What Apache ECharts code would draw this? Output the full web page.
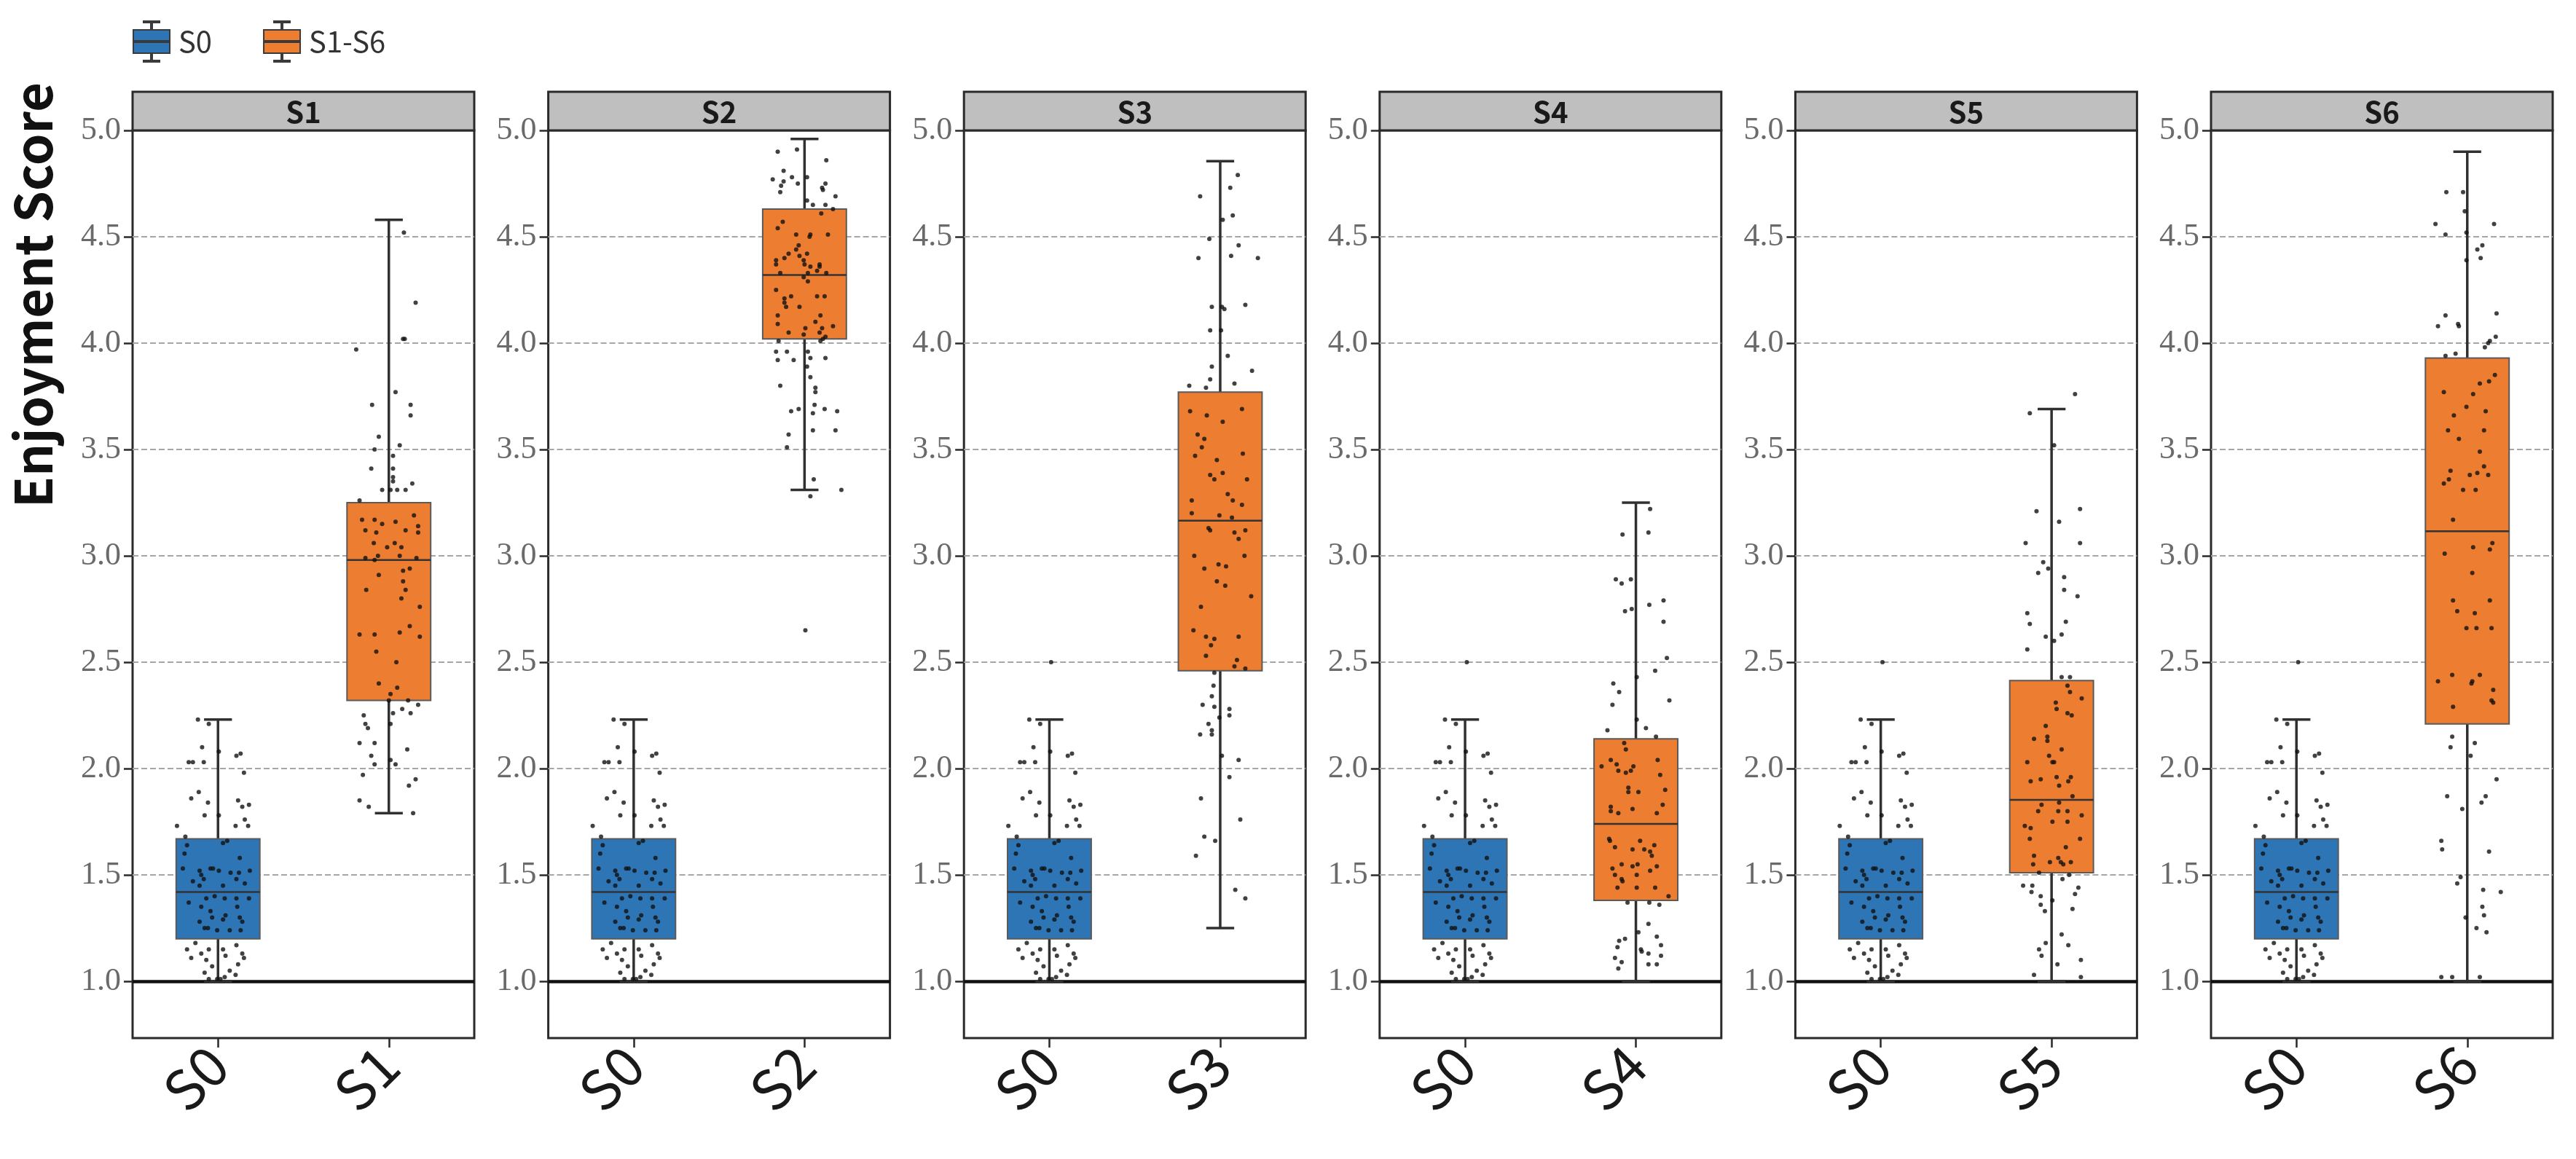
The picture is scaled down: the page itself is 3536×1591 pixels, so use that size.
<!DOCTYPE html>
<html>
<head>
<meta charset="utf-8">
<script src="https://cdn.jsdelivr.net/npm/echarts@6/dist/echarts.min.js"></script>
<style>html,body{margin:0;padding:0;background:#fff}#c{width:3536px;height:1591px}</style>
</head>
<body>
<div id="c"></div>
<script>
// ---------------- DATA ----------------
const panelNames = ['S1', 'S2', 'S3', 'S4', 'S5', 'S6'];
const baseName = 'S0';
const legendNames = ['S0', 'S1-S6'];
const yTickValues = [1.0, 1.5, 2.0, 2.5, 3.0, 3.5, 4.0, 4.5, 5.0];
const gridLineValues = [1.5, 2.0, 2.5, 3.0, 3.5, 4.0, 4.5];

// box stats: [lower whisker, Q1, median, Q3, upper whisker]
const s0Stats = [1.0, 1.2, 1.42, 1.67, 2.23];
const s1Stats = [1.79, 2.32, 2.98, 3.25, 4.58];
const s2Stats = [3.31, 4.02, 4.32, 4.63, 4.96];
const s3Stats = [1.25, 2.46, 3.165, 3.77, 4.855];
const s4Stats = [1.0, 1.38, 1.74, 2.14, 3.25];
const s5Stats = [1.0, 1.51, 1.853, 2.414, 3.69];
const s6Stats = [1.0, 2.21, 3.116, 3.93, 4.90];

// jittered observations (value) and horizontal jitter (fraction of box width)
const s0Values = [2.23,2.21,2.08,2.10,2.03,2.03,2.03,2.06,2.07,1.98,
  1.86,1.89,1.84,1.85,1.82,1.83,1.78,1.73,1.73,1.76,
  1.73,1.78,1.68,1.64,1.60,1.53,1.65,1.66,1.58,1.52,
  1.50,1.53,1.53,1.52,1.51,1.51,1.52,1.47,1.45,1.48,
  1.45,1.48,1.46,1.39,1.40,1.39,1.39,1.39,1.35,1.33,
  1.31,1.35,1.37,1.30,1.28,1.30,1.29,1.28,1.25,1.25,
  1.24,1.24,1.24,1.15,1.18,1.13,1.15,1.17,1.13,1.15,
  1.11,1.10,1.07,1.12,1.11,1.08,1.04,1.05,1.03,1.02,
  1.01,1.01,1.01];
const s0Jitter = [-0.24,-0.11,0.01,-0.19,-0.35,-0.30,-0.17,0.22,0.27,0.31,
  -0.32,-0.23,-0.12,0.24,0.29,0.37,-0.16,-0.49,0.21,0.32,
  0.36,0.01,-0.39,-0.37,-0.40,-0.42,0.06,0.11,0.26,-0.22,
  -0.20,-0.09,-0.06,0.01,0.15,0.25,0.38,-0.30,-0.22,-0.17,
  0.06,0.22,0.32,-0.14,-0.04,0.08,0.22,0.37,-0.20,-0.09,
  0.09,0.23,-0.35,0.26,0.29,-0.07,0.06,-0.22,-0.16,-0.12,
  -0.01,0.14,0.27,-0.37,-0.27,-0.20,-0.11,0.22,0.29,0.06,
  -0.32,-0.14,-0.07,0.09,0.31,0.24,-0.16,0.14,0.21,0.08,
  -0.11,0.03,-0.01];
// extra S0 outlier shown in some panels (null = none)
const s0PanelOutlier = [null, null, 2.5, 2.5, 2.5, 2.5];

const s1Values = [4.52,4.19,3.97,4.02,4.02,3.77,3.71,3.71,3.66,3.56,
  3.50,3.52,3.41,3.47,3.41,3.37,3.35,3.31,3.31,3.31,
  3.31,3.34,3.26,3.17,3.17,3.15,3.16,3.19,3.12,3.11,
  3.12,3.11,3.14,3.06,3.04,3.06,3.04,2.99,2.98,3.00,
  3.00,2.99,2.91,2.93,2.94,2.88,2.84,2.84,2.80,2.76,
  2.67,2.63,2.63,2.64,2.62,2.55,2.50,2.40,2.38,2.35,
  2.32,2.32,2.28,2.26,2.25,2.26,2.30,2.21,2.19,2.21,
  2.12,2.12,2.06,2.02,2.09,2.04,2.02,1.97,1.95,1.92,
  1.85,1.82,1.79];
const s1Jitter = [0.18,0.32,-0.39,0.17,0.19,0.08,-0.20,0.26,0.26,-0.12,
  -0.17,0.13,-0.21,0.05,0.05,0.05,0.05,-0.08,0.02,0.10,
  0.20,0.28,-0.35,-0.32,-0.17,-0.08,0.08,0.30,-0.28,-0.15,
  0.20,0.35,0.35,-0.18,-0.02,0.07,0.15,-0.28,-0.17,-0.13,
  0.13,0.33,-0.12,0.17,0.25,0.17,-0.27,0.20,0.15,0.37,
  0.25,-0.35,-0.17,0.13,0.37,-0.15,0.09,-0.12,0.10,0.02,
  0.23,0.00,0.16,0.26,-0.30,0.05,0.35,-0.28,-0.25,0.02,
  -0.35,-0.17,-0.21,-0.17,0.22,0.02,0.08,-0.31,0.32,0.24,
  -0.35,-0.24,0.29];

const s2Values = [4.90,4.91,4.86,4.81,4.77,4.78,4.78,4.76,4.74,4.75,
  4.75,4.73,4.72,4.71,4.69,4.67,4.65,4.65,4.63,4.61,
  4.57,4.54,4.51,4.51,4.50,4.51,4.46,4.44,4.42,4.40,
  4.41,4.42,4.39,4.37,4.39,4.37,4.36,4.37,4.36,4.33,
  4.33,4.34,4.33,4.31,4.29,4.25,4.22,4.21,4.19,4.17,
  4.17,4.22,4.22,4.13,4.13,4.09,4.10,4.07,4.07,4.08,
  4.05,4.04,4.05,4.03,4.02,4.01,4.01,3.96,3.96,3.96,
  3.92,3.92,3.93,3.93,3.89,3.80,3.84,3.79,3.77,3.71,
  3.69,3.68,3.69,3.67,3.68,3.59,3.59,3.57,3.51,3.36,
  3.28,3.31,2.65];
const s2Jitter = [-0.32,-0.09,0.26,-0.25,-0.38,-0.15,0.03,-0.25,-0.28,-0.08,
  0.25,0.21,0.22,-0.29,0.37,0.03,0.10,0.25,0.34,0.20,
  -0.26,-0.32,-0.10,0.07,0.06,0.28,-0.07,-0.10,-0.19,-0.24,
  -0.06,0.03,-0.34,-0.34,-0.01,0.00,0.07,0.18,0.18,-0.29,
  0.04,0.15,0.26,-0.01,0.04,-0.34,-0.16,-0.24,-0.24,-0.22,
  -0.06,0.15,0.24,-0.32,0.19,-0.32,0.13,0.01,0.21,0.34,
  -0.19,-0.01,0.18,0.25,0.22,-0.31,0.19,-0.34,-0.21,0.04,
  -0.32,-0.13,0.07,0.25,0.03,-0.29,0.07,0.13,0.13,0.12,
  -0.07,-0.16,0.24,0.10,0.39,0.10,0.37,-0.19,-0.21,0.11,
  0.07,0.44,0.01];

const s3Values = [4.79,4.73,4.69,4.60,4.58,4.49,4.40,4.41,4.46,4.40,
  4.17,4.17,4.16,4.18,4.06,4.06,3.94,3.89,3.83,3.87,
  3.81,3.80,3.79,3.68,3.66,3.69,3.63,3.57,3.55,3.51,
  3.47,3.48,3.45,3.38,3.36,3.39,3.36,3.29,3.26,3.26,
  3.20,3.24,3.19,3.18,3.13,3.12,3.11,3.08,3.12,3.00,
  3.00,2.94,2.96,2.95,2.88,2.86,2.81,2.76,2.65,2.62,
  2.61,2.58,2.62,2.53,2.51,2.48,2.47,2.45,2.39,2.34,
  2.30,2.29,2.28,2.25,2.24,2.21,2.18,2.16,2.16,2.06,
  2.04,1.96,1.86,1.76,1.68,1.66,1.59,1.43,1.39];
const s3Jitter = [0.21,0.12,-0.24,0.15,0.03,-0.13,-0.26,0.13,0.22,0.45,
  -0.10,0.02,0.05,0.30,-0.12,0.01,0.09,-0.10,-0.12,0.38,
  0.17,-0.37,-0.17,-0.36,-0.16,0.26,0.03,-0.27,-0.19,-0.22,
  -0.30,0.27,-0.04,-0.12,-0.07,0.03,0.32,0.09,0.15,-0.34,
  -0.34,0.26,-0.01,0.14,-0.14,-0.12,0.17,0.22,0.30,-0.31,
  0.29,-0.19,-0.02,0.07,-0.04,0.06,0.37,-0.23,-0.32,-0.17,
  -0.07,-0.11,0.22,-0.17,0.20,0.17,0.30,-0.07,-0.08,-0.10,
  -0.21,-0.07,0.11,0.11,-0.01,-0.14,-0.10,-0.24,-0.10,0.02,
  0.22,0.11,-0.23,0.24,-0.19,-0.06,-0.29,0.18,0.30];

const s4Values = [3.22,3.10,3.11,2.89,2.87,2.89,2.77,2.79,2.74,2.75,
  2.69,2.52,2.46,2.43,2.40,2.36,2.32,2.30,2.23,2.19,
  2.18,2.15,2.12,2.09,2.01,2.04,2.02,1.99,1.98,1.99,
  2.01,2.04,1.97,1.91,1.89,1.89,1.90,1.82,1.80,1.79,
  1.81,1.83,1.79,1.67,1.66,1.63,1.62,1.66,1.62,1.61,
  1.64,1.59,1.55,1.53,1.54,1.55,1.54,1.52,1.50,1.48,
  1.47,1.50,1.44,1.44,1.44,1.40,1.37,1.37,1.36,1.27,
  1.23,1.19,1.20,1.21,1.16,1.15,1.14,1.13,1.17,1.12,
  1.11,1.09,1.06,1.08,1.08];
const s4Jitter = [0.17,-0.16,0.15,-0.24,-0.17,-0.06,0.16,0.33,-0.13,-0.05,
  0.33,0.37,0.23,0.01,-0.27,-0.20,0.40,-0.28,0.01,0.12,
  -0.34,0.24,-0.14,-0.12,-0.41,-0.30,-0.23,-0.21,-0.12,-0.06,
  -0.03,0.26,0.29,-0.09,-0.09,0.03,0.35,-0.30,-0.30,-0.21,
  -0.04,0.32,0.25,-0.32,-0.31,-0.25,-0.04,0.05,0.10,0.17,
  0.22,0.19,-0.17,-0.28,-0.04,0.02,0.25,0.17,-0.25,-0.17,
  -0.16,0.01,-0.22,0.01,0.23,0.39,-0.10,0.16,0.28,0.15,
  0.03,-0.20,-0.13,0.25,-0.22,0.06,0.07,0.15,0.30,0.30,
  -0.25,-0.17,-0.21,0.15,0.25];

const s5Values = [3.67,3.52,3.21,3.22,3.16,3.06,3.06,2.97,2.94,2.92,
  2.90,2.84,2.81,2.73,2.68,2.69,2.62,2.63,2.60,2.56,
  2.43,2.43,2.39,2.36,2.33,2.31,2.28,2.26,2.25,2.20,
  2.14,2.15,2.13,2.09,2.06,2.03,2.03,2.03,1.94,1.95,
  1.96,1.92,1.94,1.96,1.87,1.84,1.83,1.80,1.80,1.80,
  1.78,1.73,1.72,1.75,1.75,1.67,1.67,1.63,1.59,1.58,
  1.55,1.56,1.56,1.55,1.56,1.51,1.50,1.45,1.45,1.42,
  1.48,1.44,1.41,1.40,1.36,1.33,1.38,1.34,1.22,1.18,
  1.17,1.15,1.12,1.08,1.10,1.03,1.02,3.76];
const s5Jitter = [-0.26,0.03,-0.18,0.34,0.09,-0.31,0.34,-0.10,-0.04,-0.16,
  0.15,0.15,0.31,-0.29,-0.26,0.17,-0.07,0.12,0.03,-0.29,
  0.12,0.22,0.19,0.22,0.36,0.05,0.06,0.19,0.24,-0.07,
  -0.21,-0.05,-0.05,0.12,-0.03,0.03,0.01,-0.29,-0.25,-0.13,
  0.06,0.09,0.20,0.23,0.25,0.09,-0.12,-0.16,0.08,0.19,
  0.36,-0.32,-0.25,0.01,0.19,-0.26,0.34,0.17,-0.21,0.08,
  -0.22,-0.02,0.11,0.14,0.23,-0.15,0.21,-0.34,-0.23,-0.24,
  0.13,0.32,0.28,-0.13,-0.13,-0.08,0.01,0.25,0.12,-0.07,
  0.20,-0.15,-0.12,0.07,0.35,-0.21,0.35,0.28];

const s6Values = [4.71,4.71,4.62,4.56,4.56,4.51,4.52,4.46,4.44,4.40,
  4.39,4.13,4.14,4.08,4.09,4.08,4.03,4.01,4.00,3.98,
  3.94,3.95,3.85,3.82,3.81,3.77,3.76,3.70,3.66,3.68,
  3.59,3.55,3.59,3.49,3.40,3.36,3.34,3.38,3.39,3.42,
  3.38,3.31,3.31,3.17,3.06,3.04,3.03,3.01,2.92,2.79,
  2.79,2.74,2.73,2.66,2.66,2.66,2.41,2.44,2.41,2.40,
  2.44,2.37,2.29,2.32,2.31,2.15,2.10,2.12,2.06,1.95,
  1.87,1.87,1.84,1.81,1.66,1.62,1.61,1.49,1.46,1.42,
  1.43,1.35,1.31,1.30,1.25,1.23,1.02,1.02,1.02];
const s6Jitter = [-0.25,-0.05,-0.03,-0.38,0.32,-0.26,-0.01,0.18,0.12,0.16,
  -0.01,-0.26,0.35,-0.35,-0.11,-0.10,0.34,0.27,0.25,0.21,
  -0.26,-0.14,0.33,0.26,0.15,-0.28,0.07,-0.01,-0.16,0.22,
  -0.23,-0.10,0.20,0.15,-0.20,-0.22,-0.28,0.03,0.12,0.20,
  0.25,-0.05,0.10,-0.17,0.30,0.07,0.27,-0.27,0.06,-0.17,
  0.27,-0.12,0.09,-0.01,0.11,0.29,-0.35,-0.18,0.06,0.05,
  0.15,0.31,-0.17,0.29,0.31,-0.18,-0.20,0.09,0.04,0.35,
  -0.24,0.22,0.17,-0.06,-0.31,-0.30,0.26,-0.08,-0.12,0.40,
  0.19,0.18,0.20,-0.02,0.11,0.23,-0.31,-0.18,0.15];

const referenceLine = 1.0;

const panelStats = [s1Stats, s2Stats, s3Stats, s4Stats, s5Stats, s6Stats];
const panelValues = [s1Values, s2Values, s3Values, s4Values, s5Values, s6Values];
const panelJitter = [s1Jitter, s2Jitter, s3Jitter, s4Jitter, s5Jitter, s6Jitter];

// ---------------- STYLE / LAYOUT ----------------
const BLUE = '#2E75B6';
const ORANGE = '#ED7D31';
const DARK = '#2a2a2a';
const SANS = "'Noto Sans CJK SC', 'Noto Sans', sans-serif";
const SERIF = "'Liberation Serif', 'DejaVu Serif', serif";
const G_LEFT0 = 182, G_STEP = 570.6, G_W = 469, G_TOP = 179, G_BOTTOM_PX = 1425;
const STRIP_TOP = 126;
const CHART_H = 1591;
const BOX_FRAC = 0.49;
const Y_MIN = 0.733, Y_MAX = 5.0;

function renderBox(params, api) {
  const x = api.value(0);
  const lo = api.coord([x, api.value(1)]);
  const q1 = api.coord([x, api.value(2)]);
  const md = api.coord([x, api.value(3)]);
  const q3 = api.coord([x, api.value(4)]);
  const hi = api.coord([x, api.value(5)]);
  const band = api.size([1, 0])[0];
  const bw = band * BOX_FRAC;
  const cw = bw / 3;
  const cx = lo[0];
  const color = api.visual('color');
  const ws = { stroke: '#303030', lineWidth: 3.5 };
  return {
    type: 'group',
    children: [
      { type: 'line', shape: { x1: cx, y1: hi[1], x2: cx, y2: lo[1] }, style: ws },
      { type: 'line', shape: { x1: cx - cw / 2, y1: hi[1], x2: cx + cw / 2, y2: hi[1] }, style: ws },
      { type: 'line', shape: { x1: cx - cw / 2, y1: lo[1], x2: cx + cw / 2, y2: lo[1] }, style: ws },
      { type: 'rect', shape: { x: cx - bw / 2, y: q3[1], width: bw, height: q1[1] - q3[1] },
        style: { fill: color, stroke: '#5a5a5a', lineWidth: 2 } },
      { type: 'line', shape: { x1: cx - bw / 2, y1: md[1], x2: cx + bw / 2, y2: md[1] },
        style: { stroke: '#333', lineWidth: 2.5 } }
    ]
  };
}

const grids = [], xAxes = [], yAxes = [], series = [], graphics = [];

panelNames.forEach((pn, i) => {
  const left = G_LEFT0 + i * G_STEP;
  grids.push({
    left: left, width: G_W, top: G_TOP, bottom: CHART_H - G_BOTTOM_PX,
    show: true, borderColor: DARK, borderWidth: 3
  });
  // visible category axis
  xAxes.push({
    type: 'category', gridIndex: i, data: [baseName, pn], boundaryGap: true,
    axisLine: { show: false, onZero: false },
    axisTick: { show: true, alignWithLabel: true, length: 13, lineStyle: { color: DARK, width: 2.5 } },
    axisLabel: { interval: 0, rotate: 45, fontSize: 76, fontFamily: SANS, color: '#1a1a1a', margin: 24 },
    splitLine: { show: false }, splitArea: { show: false }
  });
  // hidden numeric axis for positioning marks
  xAxes.push({ type: 'value', gridIndex: i, min: -0.5, max: 1.5, show: false,
    axisLine: { onZero: false }, splitLine: { show: false }, splitArea: { show: false } });
  yAxes.push({
    type: 'value', gridIndex: i, min: Y_MIN, max: Y_MAX, splitNumber: 8,
    minInterval: 0.5, maxInterval: 0.5,
    axisLine: { show: false, onZero: false },
    axisTick: { show: true, length: 12, customValues: yTickValues, lineStyle: { color: DARK, width: 2.5 } },
    axisLabel: { show: true, customValues: yTickValues, fontSize: 44, fontFamily: SERIF,
      color: '#6a6a6a', margin: 16, formatter: v => Number(v).toFixed(1) },
    splitLine: { show: false }, splitArea: { show: false }
  });

  const xi = i * 2 + 1;
  // dashed grid lines (drawn before boxes)
  series.push({
    name: 'grid-' + pn, type: 'line', xAxisIndex: xi, yAxisIndex: i, data: [], z: 4, silent: true,
    markLine: {
      silent: true, symbol: 'none', label: { show: false }, animation: false,
      lineStyle: { color: '#a6a6a6', width: 2, type: [8, 4] },
      data: gridLineValues.map(v => ({ yAxis: v }))
    }
  });
  series.push({
    name: legendNames[0], type: 'custom', xAxisIndex: xi, yAxisIndex: i,
    itemStyle: { color: BLUE }, renderItem: renderBox,
    encode: { x: 0, y: [1, 2, 3, 4, 5] },
    data: [[0].concat(s0Stats)], z: 6
  });
  series.push({
    name: legendNames[1], type: 'custom', xAxisIndex: xi, yAxisIndex: i,
    itemStyle: { color: ORANGE }, renderItem: renderBox,
    encode: { x: 0, y: [1, 2, 3, 4, 5] },
    data: [[1].concat(panelStats[i])], z: 6
  });
  const pts = s0Values.map((v, k) => [0 + s0Jitter[k] * BOX_FRAC, v]);
  if (s0PanelOutlier[i] != null) pts.push([0.01, s0PanelOutlier[i]]);
  panelValues[i].forEach((v, k) => pts.push([1 + panelJitter[i][k] * BOX_FRAC, v]));
  series.push({
    name: 'points-' + pn, type: 'scatter', xAxisIndex: xi, yAxisIndex: i,
    symbol: 'circle', symbolSize: 6, itemStyle: { color: '#111' },
    data: pts, z: 8, silent: true,
    markLine: {
      silent: true, symbol: 'none', label: { show: false },
      lineStyle: { color: '#111', width: 4.5, type: 'solid' },
      data: [{ yAxis: referenceLine }]
    }
  });

  // facet strip
  graphics.push({
    type: 'group', z: 50, children: [
      { type: 'rect', z: 50, shape: { x: left, y: STRIP_TOP, width: G_W, height: G_TOP - STRIP_TOP },
        style: { fill: '#bfbfbf', stroke: DARK, lineWidth: 3 } },
      { type: 'text', z: 51, x: left + G_W / 2, y: (STRIP_TOP + G_TOP) / 2 + 1,
        style: { text: pn, fontSize: 40, fontWeight: 'bold', fontFamily: SANS, fill: '#1a1a1a',
          align: 'center', verticalAlign: 'middle' } }
    ]
  });
});

graphics.push({
  type: 'text', x: 45, y: 405, rotation: Math.PI / 2, z: 50,
  style: { text: 'Enjoyment Score', fontSize: 70, fontWeight: 'bold', fontFamily: SANS, fill: '#111',
    align: 'center', verticalAlign: 'middle' }
});

const LEG_ICON = 'path://M14,0H36V2H14Z M24,2H26V12H24Z M0,12H50V44H0Z M0,27H50V29H0Z M24,44H26V54H24Z M14,54H36V56H14Z';

const option = {
  animation: false,
  backgroundColor: '#fff',
  legend: {
    left: 182, top: 28, padding: 0, itemGap: 70, itemWidth: 50, itemHeight: 56,
    data: [{ name: legendNames[0], icon: LEG_ICON }, { name: legendNames[1], icon: LEG_ICON }],
    itemStyle: { borderColor: '#3a3a3a', borderWidth: 2 },
    textStyle: { fontSize: 40, fontFamily: SANS, color: '#333', padding: [0, 0, 0, 7] }
  },
  grid: grids,
  xAxis: xAxes,
  yAxis: yAxes,
  series: series,
  graphic: graphics
};

const chart = echarts.init(document.getElementById('c'), null, { width: 3536, height: 1591 });
chart.setOption(option);
</script>
</body>
</html>
